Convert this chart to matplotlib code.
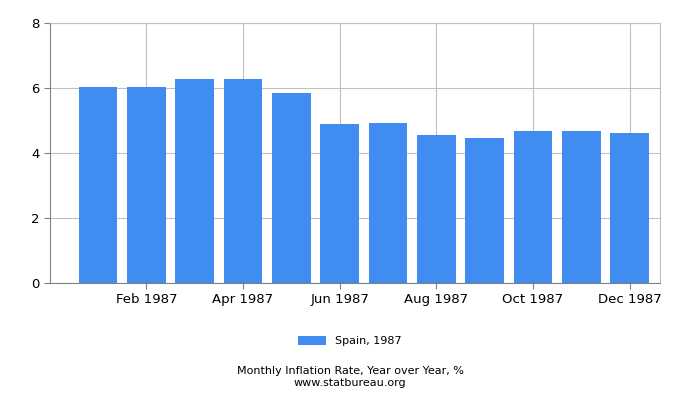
import matplotlib
matplotlib.use("Agg")
import matplotlib.pyplot as plt

months = ["Jan 1987","Feb 1987","Mar 1987","Apr 1987","May 1987","Jun 1987",
          "Jul 1987","Aug 1987","Sep 1987","Oct 1987","Nov 1987","Dec 1987"]
values = [6.03, 6.03, 6.27, 6.27, 5.85, 4.89, 4.92, 4.55, 4.46, 4.68, 4.68, 4.62]
series_name = "Spain, 1987"

fig = plt.figure(figsize=(7, 4), dpi=100)
ax = fig.add_axes([0.071, 0.2925, 0.872, 0.65])
x = list(range(len(months)))
ax.bar(x, values, width=0.8, color="#418cf0", label=series_name, zorder=3)
ax.set_xlim(-1.0, 11.63)
ax.set_ylim(0, 8)
ax.set_yticks([0, 2, 4, 6, 8])
ax.set_xticks(x[1::2])
ax.set_xticklabels(months[1::2], fontsize=9.5)
ax.tick_params(axis="y", labelsize=9.5)
ax.grid(True, color="#c0c0c0", linewidth=0.8, zorder=0)
for s in ["top", "right"]:
    ax.spines[s].set_color("#c0c0c0")
ax.spines["left"].set_color("#808080")
ax.spines["bottom"].set_color("#808080")
ax.tick_params(length=4, color="#808080")
fig.legend(loc="center", bbox_to_anchor=(0.5, 0.148), frameon=False, fontsize=8,
           handlelength=2.5, handleheight=0.9)
fig.text(0.5, 0.065, "Monthly Inflation Rate, Year over Year, %", ha="center", fontsize=8)
fig.text(0.5, 0.035, "www.statbureau.org", ha="center", fontsize=8)
fig.savefig("out.png")
